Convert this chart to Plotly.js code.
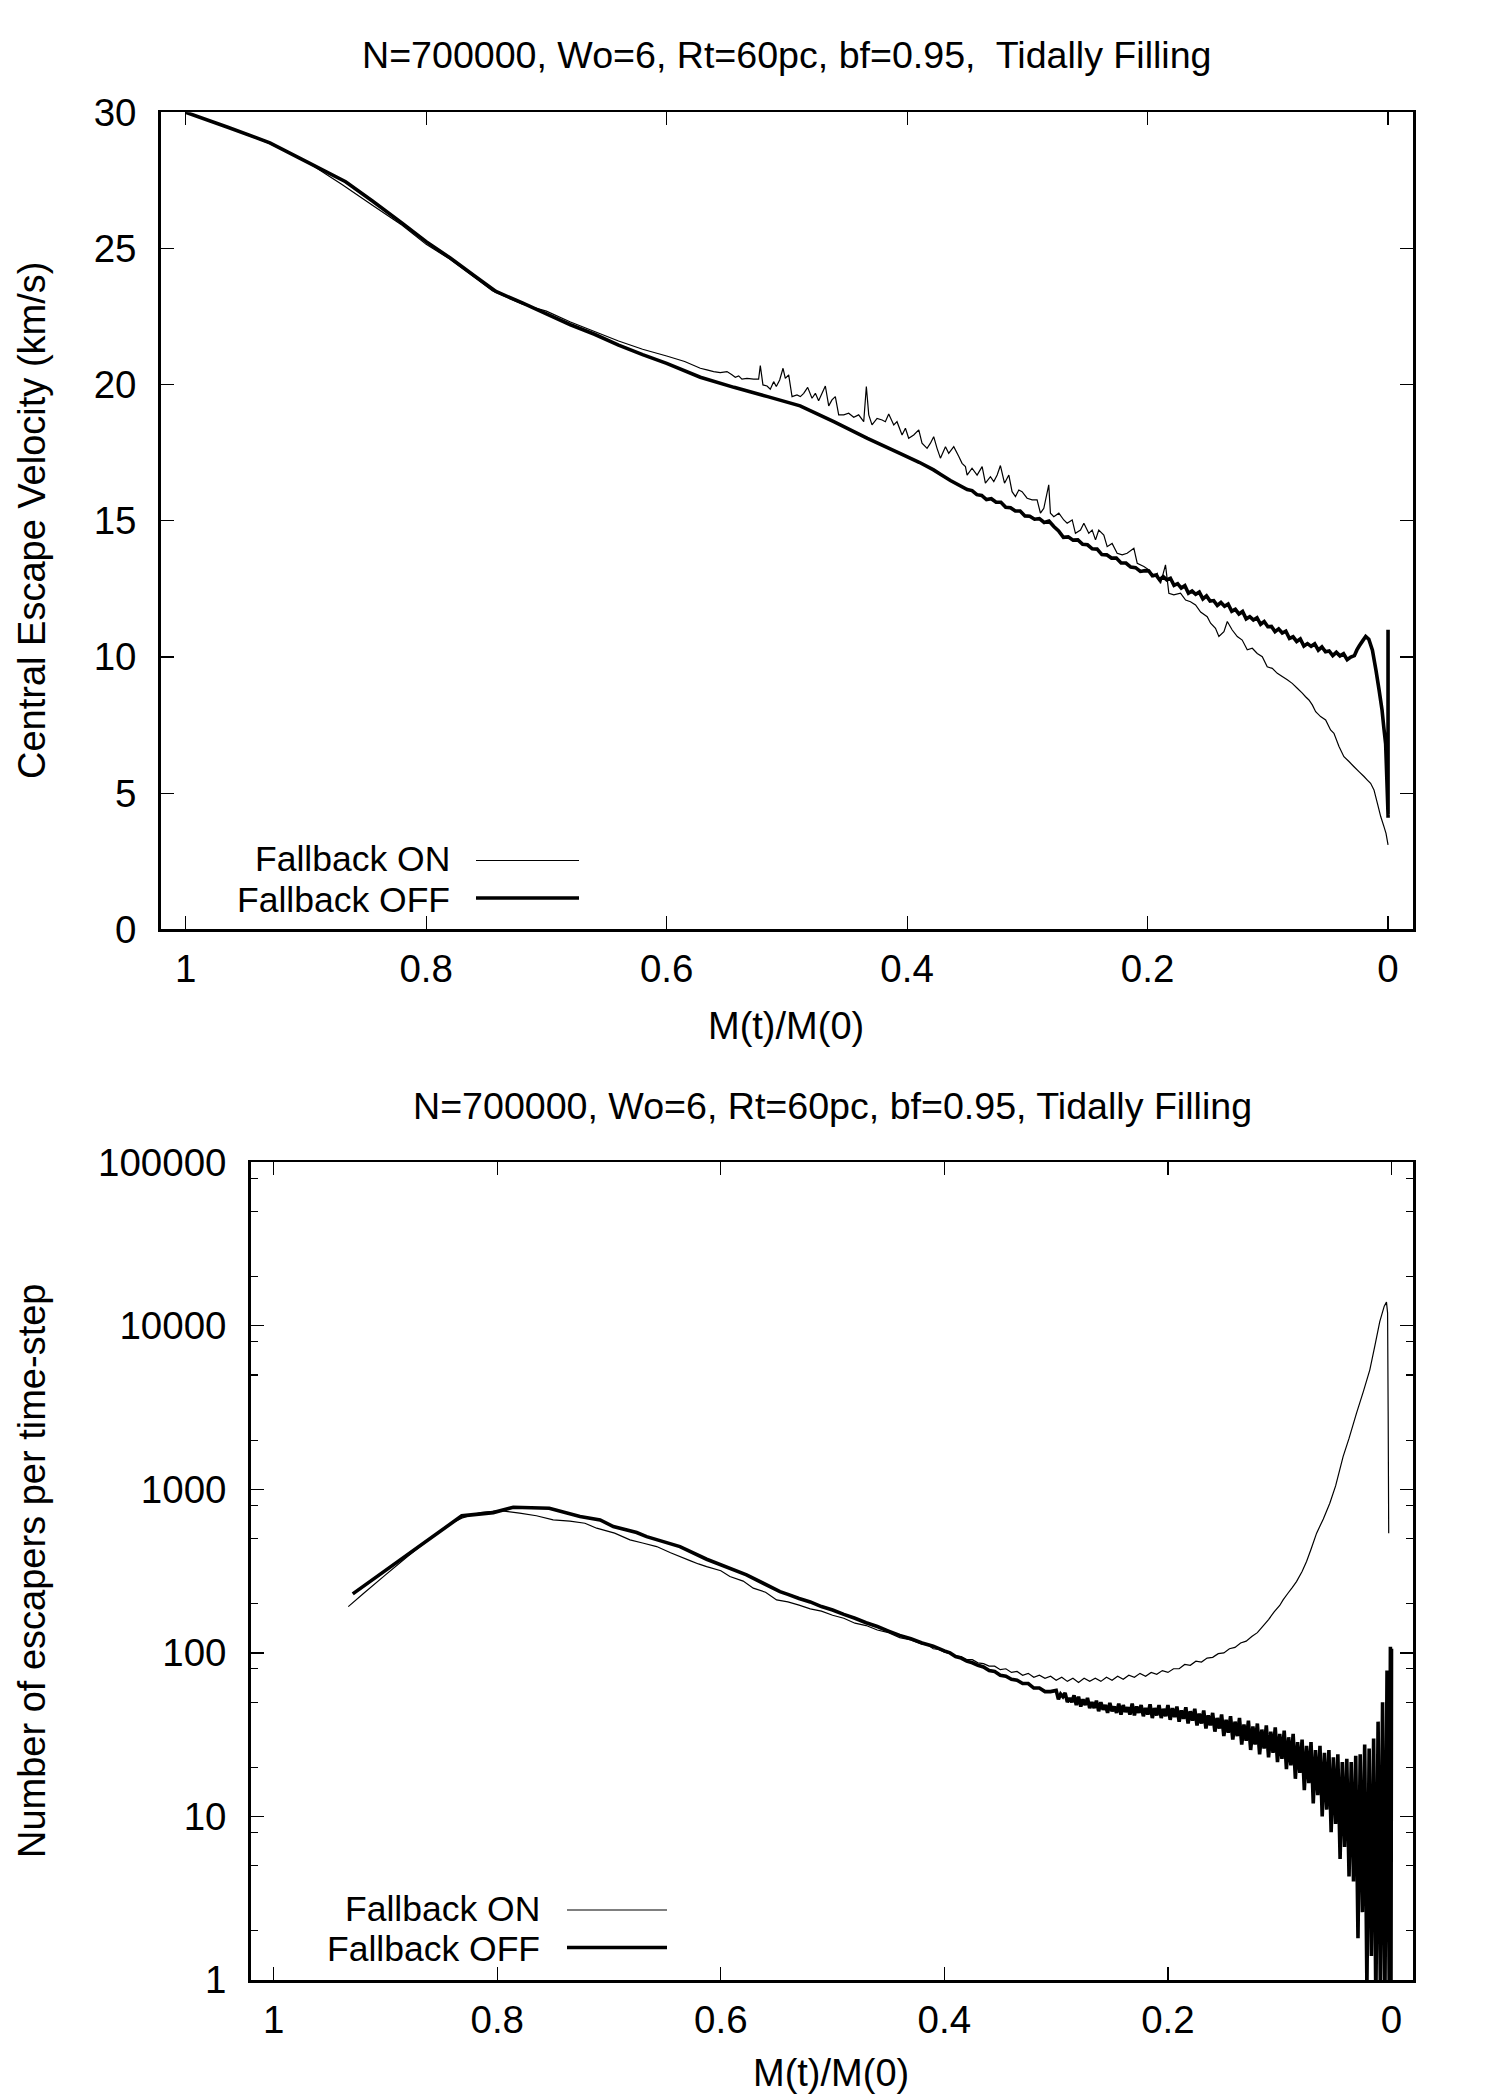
<!DOCTYPE html>
<html>
<head>
<meta charset="utf-8">
<script src="https://cdn.plot.ly/plotly-3.0.1.min.js"></script>
<style>html,body{margin:0;padding:0;background:#fff}</style>
</head>
<body>
<div id="chart" style="width:1500px;height:2100px"></div>
<script>
// ---- series names and tick labels ----
const seriesNames = ['Fallback ON', 'Fallback OFF'];
const panelTitles = ['N=700000, Wo=6, Rt=60pc, bf=0.95,  Tidally Filling',
                     'N=700000, Wo=6, Rt=60pc, bf=0.95, Tidally Filling'];
const massLabel = 'M(t)/M(0)';
const velLabel = 'Central Escape Velocity (km/s)';
const rateLabel = 'Number of escapers per time-step';
const massTicks = [1, 0.8, 0.6, 0.4, 0.2, 0];
const massTickText = ['1', '0.8', '0.6', '0.4', '0.2', '0'];
const velTicks = [0, 5, 10, 15, 20, 25, 30];
const rateTicks = [1, 10, 100, 1000, 10000, 100000];
const rateTickText = ['1', '10', '100', '1000', '10000', '100000'];
const rateMinorTicks = [2, 5, 8, 20, 50, 80, 200, 500, 800, 2000, 5000, 8000, 20000, 50000, 80000];

// ---- upper panel: central escape velocity vs remaining mass fraction ----
const escOnMass = [1.0, 0.965, 0.93, 0.90, 0.87, 0.845, 0.82, 0.80, 0.78, 0.76, 0.745, 0.72, 0.70, 0.68, 0.66, 0.64, 0.62, 0.60, 0.585,
  0.5720, 0.5665, 0.5609, 0.5554, 0.5498, 0.5457, 0.5429, 0.5401, 0.5374, 0.5332, 0.5276, 0.5235, 0.5221, 0.5199, 0.5165, 0.5138,
  0.5110, 0.5088, 0.5060, 0.5032, 0.5013, 0.4985, 0.4957, 0.4916, 0.4888, 0.4860, 0.4827, 0.4791, 0.4763, 0.4736, 0.4680, 0.4652,
  0.4625, 0.4597, 0.4569, 0.4527, 0.4486, 0.4444, 0.4403, 0.4361, 0.4339, 0.4319, 0.4292, 0.4250, 0.4208, 0.4181, 0.4153, 0.4111,
  0.4084, 0.4042, 0.4014, 0.3987, 0.3945, 0.3903, 0.3876, 0.3834, 0.3806, 0.3779, 0.3751, 0.3723, 0.3681, 0.3654, 0.3612, 0.3570,
  0.3543, 0.3515, 0.3501, 0.3460, 0.3418, 0.3376, 0.3349, 0.3307, 0.3279, 0.3251, 0.3224, 0.3190, 0.3154, 0.3127, 0.3099, 0.3071,
  0.3044, 0.3002, 0.2960, 0.2919, 0.2891, 0.2863, 0.2822, 0.2808, 0.2780, 0.2738, 0.2697, 0.2669, 0.2627, 0.2600, 0.2558, 0.2530,
  0.2489, 0.2461, 0.2433, 0.2406, 0.2364, 0.2336, 0.2295, 0.2253, 0.2211, 0.2170, 0.2114, 0.2086, 0.2031, 0.1989, 0.1948, 0.1920,
  0.1892, 0.1851, 0.1823, 0.1782, 0.1726, 0.1684, 0.1643, 0.1601, 0.1559,
  0.1504, 0.1476, 0.1435, 0.1407, 0.1365, 0.1337, 0.1296, 0.1254, 0.1213, 0.1171, 0.1129, 0.1088, 0.1046, 0.1005, 0.0963, 0.0921,
  0.0880, 0.0838, 0.0797, 0.0755, 0.0713, 0.0686, 0.0658, 0.0630, 0.0602, 0.0561, 0.0519, 0.0478, 0.0450, 0.0408, 0.0367, 0.0325,
  0.0283, 0.0242, 0.0200, 0.0172, 0.0145, 0.0117, 0.0089, 0.0061, 0.0034, 0.0017, 0.0000];
const escOnVel = [30.0, 29.45, 28.85, 28.2, 27.35, 26.6, 25.85, 25.15, 24.6, 23.95, 23.45, 22.95, 22.7, 22.3, 21.95, 21.6, 21.3, 21.05, 20.85,
  20.60, 20.54, 20.48, 20.44, 20.48, 20.36, 20.27, 20.32, 20.20, 20.23, 20.20, 20.20, 20.70, 19.99, 19.95, 19.83,
  20.11, 19.93, 20.17, 20.60, 20.23, 20.36, 19.56, 19.62, 19.56, 19.68, 19.90, 19.50, 19.68, 19.41, 19.95, 19.22,
  19.44, 19.56, 18.89, 18.89, 18.95, 18.80, 18.89, 18.64, 19.93, 18.89, 18.52, 18.76, 18.70, 18.64, 18.92, 18.52,
  18.64, 18.15, 18.40, 18.03, 18.15, 18.34, 17.85, 17.66, 17.85, 18.09, 17.66, 17.30, 17.72, 17.48, 17.72, 17.36,
  17.11, 16.99, 16.68, 16.93, 16.68, 16.99, 16.38, 16.62, 16.44, 16.68, 17.03, 16.38, 16.68, 16.07, 15.89, 16.13,
  16.07, 15.83, 15.77, 15.77, 15.28, 15.46, 16.32, 15.28, 15.15, 15.28, 15.03, 14.91, 15.03, 14.54, 14.66, 14.91,
  14.54, 14.66, 14.30, 14.66, 14.48, 14.05, 14.17, 13.81, 13.75, 13.81, 13.99, 13.44, 13.32, 13.20, 12.95, 13.07,
  12.70, 13.38, 12.34, 12.28, 12.34, 12.09, 12.03, 11.91, 11.65,
  11.48, 11.24, 11.05, 10.75, 10.93, 11.30, 10.99, 10.75, 10.62, 10.26, 10.32, 10.13, 10.01, 9.64, 9.58, 9.40,
  9.28, 9.16, 9.03, 8.85, 8.67, 8.54, 8.42, 8.24, 7.99, 7.81, 7.69, 7.32, 7.20, 6.71, 6.34, 6.16,
  5.97, 5.79, 5.61, 5.48, 5.36, 5.12, 4.63, 4.14, 3.77, 3.52, 3.10];

const escOffMass = [1.0, 0.965, 0.93, 0.90, 0.867, 0.845, 0.82, 0.80, 0.78, 0.76, 0.742, 0.72, 0.70, 0.68, 0.66, 0.64, 0.62, 0.60,
  0.572, 0.544, 0.516, 0.489, 0.461, 0.433, 0.406, 0.390, 0.378, 0.372, 0.364, 0.350,
  0.346, 0.342, 0.338, 0.334, 0.330, 0.326, 0.322, 0.318, 0.314, 0.310, 0.306, 0.302, 0.298, 0.294, 0.290, 0.286, 0.282, 0.278,
  0.274, 0.270, 0.266, 0.262, 0.258, 0.254, 0.250, 0.246, 0.242, 0.238, 0.234, 0.230, 0.226, 0.222, 0.218, 0.214, 0.210, 0.206, 0.202,
  0.199, 0.196, 0.193, 0.190, 0.187, 0.184, 0.181, 0.178, 0.175, 0.172, 0.169, 0.166, 0.163, 0.160, 0.157, 0.154, 0.151, 0.148,
  0.145, 0.142, 0.139, 0.136, 0.133, 0.130, 0.127, 0.124, 0.121, 0.118, 0.115, 0.112, 0.109, 0.106, 0.103, 0.100, 0.097, 0.094,
  0.091, 0.088, 0.085, 0.082, 0.079, 0.076, 0.073, 0.070, 0.067, 0.064, 0.061, 0.058, 0.055, 0.052, 0.049, 0.046, 0.043, 0.040, 0.037,
  0.034, 0.031, 0.028, 0.026, 0.024, 0.021, 0.0186, 0.016, 0.013, 0.010, 0.0075, 0.005, 0.0035, 0.002, 0.001, 0.0, 0.0, 0.0];
const escOffVel = [30.0, 29.45, 28.88, 28.2, 27.45, 26.75, 25.93, 25.25, 24.65, 24.0, 23.42, 23.0, 22.6, 22.2, 21.85, 21.45, 21.1, 20.78,
  20.27, 19.90, 19.56, 19.22, 18.64, 18.03, 17.48, 17.15, 16.87, 16.70, 16.48, 16.15,
  16.11, 15.96, 15.93, 15.78, 15.81, 15.68, 15.68, 15.50, 15.48, 15.36, 15.36, 15.18, 15.17, 15.06, 15.08, 14.94, 14.99, 14.79,
  14.63, 14.39, 14.41, 14.29, 14.30, 14.14, 14.12, 13.97, 13.96, 13.76, 13.75, 13.63, 13.63, 13.45, 13.45, 13.30, 13.28, 13.14, 13.17,
  13.16, 12.98, 13.01, 12.83, 12.95, 12.83, 12.89, 12.63, 12.69, 12.53, 12.62, 12.34, 12.42, 12.30, 12.38, 12.13, 12.24, 12.05,
  12.07, 11.89, 12.00, 11.86, 11.94, 11.68, 11.75, 11.58, 11.67, 11.40, 11.48, 11.36, 11.44, 11.20, 11.30, 11.11, 11.12, 10.93,
  11.03, 10.88, 10.95, 10.68, 10.74, 10.57, 10.66, 10.40, 10.49, 10.39, 10.48, 10.25, 10.37, 10.19, 10.22, 10.05, 10.17, 10.04, 10.12,
  9.90, 10.00, 10.05, 10.25, 10.40, 10.60, 10.75, 10.65, 10.25, 9.50, 8.80, 8.05, 7.40, 6.80, 5.50, 4.20, 11.0, 4.10];

// ---- lower panel: escapers per time-step vs remaining mass fraction ----
const lossOnMass = [0.9333, 0.92, 0.90, 0.88, 0.86, 0.845, 0.8318, 0.825, 0.815, 0.7976, 0.78, 0.765, 0.75, 0.735, 0.7216, 0.7111,
  0.695, 0.6813, 0.67, 0.6574, 0.645, 0.6276, 0.62, 0.6127, 0.60, 0.5919, 0.58, 0.571, 0.56, 0.5501,
  0.54, 0.53, 0.52, 0.51, 0.50, 0.49, 0.48, 0.47, 0.46, 0.45, 0.44, 0.43, 0.42, 0.415, 0.41, 0.405, 0.40, 0.395, 0.39, 0.385,
  0.38, 0.375, 0.37, 0.365, 0.36, 0.355, 0.35, 0.345, 0.34, 0.335, 0.33, 0.325, 0.32, 0.315, 0.31, 0.305, 0.30, 0.295, 0.29,
  0.285, 0.28, 0.275, 0.27, 0.265, 0.26, 0.255, 0.25, 0.245, 0.24, 0.235, 0.23, 0.225, 0.22, 0.215, 0.21, 0.205, 0.20, 0.195,
  0.19, 0.185, 0.18, 0.175, 0.17, 0.165, 0.16, 0.155, 0.15, 0.145, 0.14, 0.135, 0.13, 0.125, 0.12, 0.115, 0.11, 0.105, 0.10,
  0.097, 0.093, 0.089, 0.085, 0.08, 0.076, 0.072, 0.067, 0.061, 0.0552, 0.05, 0.0433, 0.038, 0.0313, 0.025, 0.0194, 0.015,
  0.0105, 0.0065, 0.0045, 0.0035, 0.003, 0.0025];
const lossOnRate = [192, 230, 300, 390, 500, 600, 667, 690, 720, 742, 715, 690, 651, 640, 621, 579,
  540, 491, 470, 447, 410, 367, 350, 337, 318, 293, 275, 249, 235, 211,
  205, 196, 186, 180, 170, 163, 152, 147, 138, 133, 124, 120, 113, 112, 106, 105, 101, 99, 96, 95,
  91, 91, 87, 86, 83, 83, 79, 80, 76, 77, 73, 75, 71, 73, 70, 72, 68, 71, 67,
  70, 66, 70, 67, 70, 67, 71, 68, 72, 69, 73, 71, 75, 72, 76, 74, 78, 76, 80,
  80, 85, 84, 89, 88, 93, 94, 99, 100, 106, 108, 115, 118, 126, 133, 146, 160, 178, 195,
  211, 230, 250, 273, 315, 362, 430, 540, 660, 823, 1050, 1586, 2050, 2925, 4000, 5380, 7500,
  10620, 13200, 13960, 12000, 3000, 540];

const lossOffMass = [0.9293, 0.8318, 0.8036, 0.7857, 0.7535, 0.726, 0.708, 0.6962, 0.6753, 0.6664, 0.6366, 0.6127, 0.577, 0.5471,
  0.54, 0.53, 0.52, 0.51, 0.50, 0.49, 0.48, 0.47, 0.46, 0.45, 0.44, 0.43, 0.42, 0.41, 0.40, 0.395, 0.39, 0.385, 0.38, 0.375,
  0.37, 0.365, 0.36, 0.355, 0.35, 0.345, 0.34, 0.335, 0.33, 0.325, 0.32, 0.315, 0.31, 0.305,
  0.300, 0.298, 0.296, 0.294, 0.292, 0.290, 0.288, 0.286, 0.284, 0.282, 0.280, 0.278, 0.276, 0.274, 0.272, 0.270, 0.268, 0.266,
  0.264, 0.262, 0.260, 0.258, 0.256, 0.254, 0.252, 0.250, 0.248, 0.246, 0.244, 0.242, 0.240, 0.238, 0.236, 0.234, 0.232, 0.230,
  0.228, 0.226, 0.224, 0.222, 0.220, 0.218, 0.216, 0.214, 0.212, 0.210, 0.208, 0.206, 0.204, 0.202, 0.200, 0.198, 0.196, 0.194,
  0.192, 0.190, 0.188, 0.186, 0.184, 0.182, 0.180, 0.178, 0.176, 0.174, 0.172, 0.170, 0.168, 0.166, 0.164, 0.162, 0.160, 0.158,
  0.156, 0.154, 0.152, 0.150, 0.148, 0.146, 0.144, 0.142, 0.140, 0.138, 0.136, 0.134, 0.132, 0.130, 0.128, 0.126, 0.124, 0.122,
  0.120, 0.118, 0.116, 0.114, 0.112, 0.110, 0.108, 0.106, 0.104, 0.102, 0.100, 0.098, 0.096, 0.094, 0.092, 0.090, 0.088, 0.086,
  0.084, 0.082, 0.080, 0.078, 0.076, 0.074, 0.072, 0.070, 0.068, 0.066, 0.064, 0.062, 0.060, 0.058, 0.056, 0.054, 0.052, 0.050,
  0.048, 0.046, 0.044, 0.042, 0.040, 0.038, 0.036, 0.034, 0.032, 0.030, 0.028, 0.026, 0.024, 0.022, 0.020, 0.018, 0.016, 0.014,
  0.012, 0.010, 0.008, 0.006, 0.004, 0.002, 0.001, 0.0005, 0.0];
const lossOffRate = [229.6, 689, 721, 778, 767, 682, 651, 593, 545, 514, 447, 374, 300, 237,
  228, 215, 205, 192, 183, 172, 163, 153, 145, 136, 128, 122, 115, 110, 103, 100, 95, 93, 89, 87,
  84, 82, 78, 77, 73, 72, 69, 68, 65, 65, 61, 61, 58, 58,
  59, 52, 56, 54, 57, 50, 53, 50, 55, 48, 54, 47, 52, 48, 53, 46, 50, 46,
  51, 44, 50, 45, 48, 43, 49.5, 44, 47, 43, 49, 42, 48, 43.5, 46.5, 42, 49, 41.5,
  47, 43, 48, 41, 46, 42, 48.5, 40, 46, 41.5, 48, 40, 45.5, 41, 48, 39, 46, 40.5,
  47, 38, 44.5, 39.5, 46.5, 37, 44, 38.5, 45.5, 36, 42.5, 37, 44.5, 34.5, 41.5, 36, 43, 33,
  40, 34.5, 42, 31, 39, 32.5, 41, 29.5, 38, 31, 40, 27.5, 36.5, 29, 38.5, 25.5, 35.5, 27.5,
  37, 24, 34, 26, 36, 23, 33, 24.5, 35, 21.5, 32, 22.5, 33.5, 19.5, 30.5, 20.5, 32, 17,
  28.5, 18.5, 29.5, 14.5, 27, 16, 28.5, 12, 25.5, 13.5, 27, 10, 24.5, 11, 25.5, 8, 23, 9,
  24, 5.5, 21.5, 6.5, 22.5, 4.3, 21.5, 4.0, 23.5, 1.8, 24, 2.6, 27.5, 0.9, 26, 1.4, 30, 0.7,
  38, 0.9, 50, 0.6, 78, 0.8, 109, 0.6, 106];

// ---- page geometry helpers (pixels -> paper fractions) ----
const W = 1500, H = 2100;
const fx = v => v / W;
const fy = v => 1 - v / H;

const thin = { color: '#000', width: 1.2, simplify: false };
const thick = { color: '#000', width: 3.6, simplify: false };

const traces = [
  { x: escOnMass, y: escOnVel, xaxis: 'x', yaxis: 'y', mode: 'lines', name: seriesNames[0], line: thin },
  { x: escOffMass, y: escOffVel, xaxis: 'x', yaxis: 'y', mode: 'lines', name: seriesNames[1], line: thick },
  { x: lossOnMass, y: lossOnRate, xaxis: 'x2', yaxis: 'y2', mode: 'lines', name: seriesNames[0], line: thin },
  { x: lossOffMass, y: lossOffRate, xaxis: 'x2', yaxis: 'y2', mode: 'lines', name: seriesNames[1], line: thick }
];

const FONT = 'Liberation Sans, Arial, Helvetica, sans-serif';
const axisBase = {
  showline: true, linecolor: '#000', linewidth: 2.5, mirror: 'allticks',
  ticks: 'inside', ticklen: 13, tickwidth: 1.2, tickcolor: '#000',
  showgrid: false, zeroline: false, automargin: false,
  tickfont: { family: FONT, size: 38.5, color: '#000' }
};
const xStandoff = { ticklabelstandoff: 4 };
const yStandoff = { ticklabelstandoff: 14 };

// gnuplot-style key: label right-aligned, line sample to its right
function keyItems(textRight, lineX0, lineX1, yOn, yOff) {
  const ann = [], shp = [];
  [yOn, yOff].forEach((y, i) => {
    const textY = y + (i === 0 ? -1.5 : 1.5);
    ann.push({ xref: 'paper', yref: 'paper', x: fx(textRight), y: fy(textY), xanchor: 'right', yanchor: 'middle',
      text: seriesNames[i], showarrow: false, font: { family: FONT, size: 35.5, color: '#000' } });
    shp.push({ type: 'line', xref: 'paper', yref: 'paper', x0: fx(lineX0), x1: fx(lineX1), y0: fy(y), y1: fy(y),
      line: { color: '#000', width: i === 0 ? thin.width : thick.width } });
  });
  return { ann, shp };
}
const key1 = keyItems(452, 476, 579, 860.5, 898);
const key2 = keyItems(542, 567, 667, 1910, 1947.5);

const textAnn = (x, y, text, size, angle) => ({
  xref: 'paper', yref: 'paper', x: fx(x), y: fy(y), xanchor: 'center', yanchor: 'middle',
  text: text, showarrow: false, textangle: angle || 0, font: { family: FONT, size: size, color: '#000' }
});

const layout = {
  width: W, height: H,
  margin: { l: 0, r: 0, t: 0, b: 0 },
  paper_bgcolor: '#fff', plot_bgcolor: '#fff',
  showlegend: false,
  font: { family: FONT, color: '#000' },
  xaxis: Object.assign({}, axisBase, xStandoff, { domain: [fx(160.7), fx(1413.3)], anchor: 'y', range: [1.0208, -0.021],
    tickmode: 'array', tickvals: massTicks, ticktext: massTickText }),
  yaxis: Object.assign({}, axisBase, yStandoff, { domain: [fy(929.3), fy(112.3)], anchor: 'x', range: [0, 30],
    tickmode: 'array', tickvals: velTicks, ticktext: velTicks.map(String) }),
  xaxis2: Object.assign({}, axisBase, xStandoff, { domain: [fx(250.7), fx(1413.3)], anchor: 'y2', range: [1.0206, -0.0195],
    tickmode: 'array', tickvals: massTicks, ticktext: massTickText }),
  yaxis2: Object.assign({}, axisBase, yStandoff, { type: 'log', domain: [fy(1980), fy(1162.3)], anchor: 'x2', range: [0, 5],
    tickmode: 'array', tickvals: rateTicks, ticktext: rateTickText,
    minor: { tickmode: 'array', tickvals: rateMinorTicks, ticks: 'inside', ticklen: 7, tickwidth: 1.2, tickcolor: '#000', showgrid: false } }),
  annotations: [
    textAnn(787, 55, panelTitles[0], 37.6),
    textAnn(832, 1106, panelTitles[1], 37.6),
    textAnn(786, 1026, massLabel, 38),
    textAnn(831, 2073, massLabel, 38),
    textAnn(32, 521, velLabel, 38, -90),
    textAnn(32, 1571, rateLabel, 38, -90)
  ].concat(key1.ann, key2.ann),
  shapes: key1.shp.concat(key2.shp)
};

Plotly.newPlot('chart', traces, layout, { displayModeBar: false, staticPlot: true });
</script>
</body>
</html>
